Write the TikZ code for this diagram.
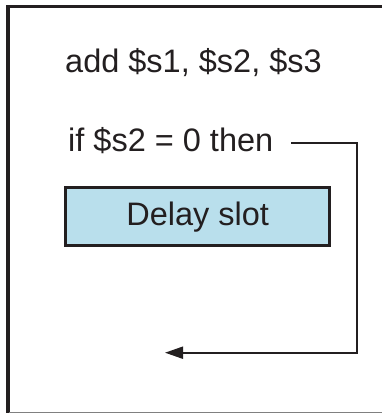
\documentclass[tikz,border=0pt]{standalone}
\usepackage{fontspec}
\setmainfont{Liberation Sans}
\usetikzlibrary{arrows.meta}
\definecolor{ink}{RGB}{35,31,32}
\definecolor{slotblue}{RGB}{185,223,236}
\tikzset{
  codetext/.style={anchor=base west, inner sep=0pt, text=ink, font=\fontsize{32.5}{38}\selectfont},
  slotbox/.style={draw=ink, line width=2.5pt, fill=slotblue, minimum width=264pt, minimum height=58pt, inner sep=0pt, text=ink, font=\fontsize{32.5}{38}\selectfont},
  branch/.style={draw=ink, line width=2pt, -{Triangle[length=18pt, width=12pt]}}
}
\begin{document}
\begin{tikzpicture}[x=1pt, y=-1pt]
\useasboundingbox (0,0) rectangle (382,413);
% frame
\draw[ink, line width=3.5pt] (8,413) -- (8,6.5) -- (382,6.5);
\draw[gray, line width=1pt] (9,412.3) -- (382,412.3);
% texts
\node[codetext] (t1) at (65,72) {add \$s1, \$s2, \$s3};
\node[codetext] (t2) at (68,151.7) {if \$s2 = 0 then};
\node[slotbox] (slot) at (197.7,216.7) {Delay slot};
% branch arrow
\coordinate (bstart) at (291,143.3);
\coordinate (corner) at (356.5,143.3);
\coordinate (target) at (165,352.7);
\draw[branch] (bstart) -- (corner) |- (target);
\end{tikzpicture}
\end{document}
